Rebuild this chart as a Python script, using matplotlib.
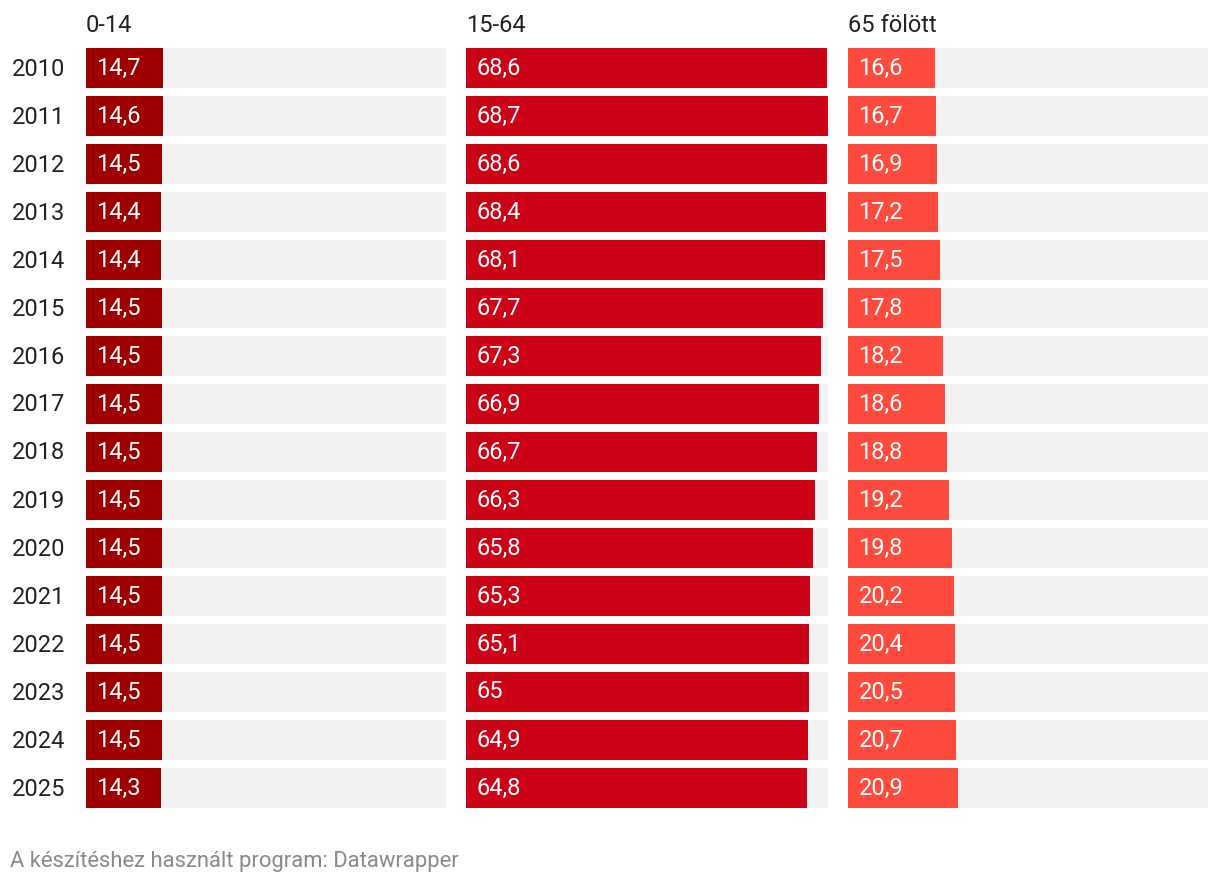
import matplotlib.pyplot as plt

plt.rcParams['font.family'] = ['Roboto', 'DejaVu Sans']

years = ['2010', '2011', '2012', '2013', '2014', '2015', '2016', '2017',
         '2018', '2019', '2020', '2021', '2022', '2023', '2024', '2025']
groups = ['0-14', '15-64', '65 fölött']
age_0_14 = [14.7, 14.6, 14.5, 14.4, 14.4, 14.5, 14.5, 14.5,
            14.5, 14.5, 14.5, 14.5, 14.5, 14.5, 14.5, 14.3]
age_15_64 = [68.6, 68.7, 68.6, 68.4, 68.1, 67.7, 67.3, 66.9,
             66.7, 66.3, 65.8, 65.3, 65.1, 65.0, 64.9, 64.8]
age_65 = [16.6, 16.7, 16.9, 17.2, 17.5, 17.8, 18.2, 18.6,
          18.8, 19.2, 19.8, 20.2, 20.4, 20.5, 20.7, 20.9]
colors = ['#9e0000', '#cc0317', '#ff4b3d']

W, H = 1220, 884
fig = plt.figure(figsize=(W / 100, H / 100), dpi=100)

series = [age_0_14, age_15_64, age_65]
lefts = [86, 466, 848]
widths = [360, 362, 360]
xmax = max(age_15_64)
top, row = 44, 48


def fmt(v):
    s = ('%.1f' % v).rstrip('0').rstrip('.')
    return s.replace('.', ',')


for k, vals in enumerate(series):
    ax = fig.add_axes([lefts[k] / W, 1 - (top + row * len(years)) / H,
                       widths[k] / W, row * len(years) / H])
    ypos = list(range(len(years)))
    ax.barh(ypos, [xmax] * len(years), height=40 / 48, color='#f2f2f2')
    ax.barh(ypos, vals, height=40 / 48, color=colors[k])
    for i, v in enumerate(vals):
        ax.annotate(fmt(v), (0, i), xytext=(7.5, 0), textcoords='offset points',
                    va='center', ha='left', color='white', fontsize=17)
    ax.set_xlim(0, xmax)
    ax.set_ylim(len(years) - 0.5, -0.5)
    ax.axis('off')
    fig.text(lefts[k] / W, 1 - 25 / H, groups[k], fontsize=17,
             color='#222222', va='center', ha='left')

for i, y in enumerate(years):
    fig.text(12 / W, 1 - (69 + row * i) / H, y, fontsize=17,
             color='#222222', va='center', ha='left')

fig.text(10 / W, 1 - 861 / H, 'A készítéshez használt program: Datawrapper',
         fontsize=15.8, color='#8a8a8a', va='center', ha='left')

fig.savefig('out.png', dpi=100, facecolor='white')
